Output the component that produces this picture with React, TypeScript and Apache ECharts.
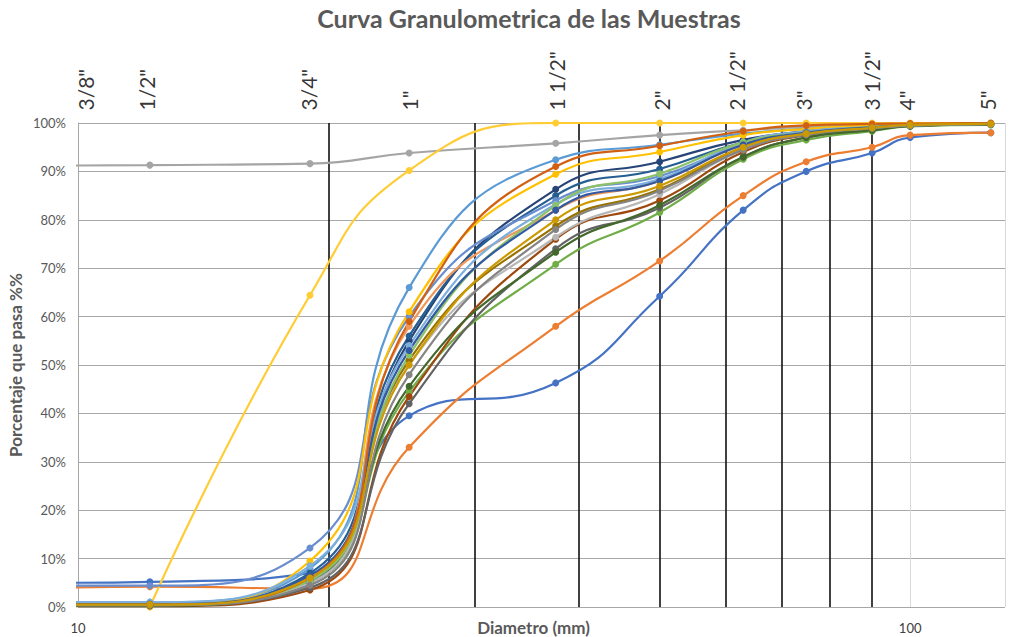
import React, { useEffect, useRef } from "react";
import * as echarts from "echarts";

// Sieve sizes (mm) used for every sample
const sizes = [9.5, 12.2, 19, 25, 37.5, 50, 63, 75, 90, 100, 125];

// Top sieve labels and their positions along the diameter axis (mm)
const sieveLabels = ['3/8"', '1/2"', '3/4"', '1"', '1 1/2"', '2"', '2 1/2"', '3"', '3 1/2"', '4"', '5"'];
const sieveLabelPos = [10.2, 12.1, 18.9, 25, 37.6, 50.2, 61.8, 74.4, 89.8, 99, 124];

// Minor vertical grid lines (mm)
const minorGrid = [20, 30, 40, 50, 60, 70, 80, 90];

// Percent passing for each sample (null = sieve not reported)
const m1 = [5, 5.2, 7, 39.5, 46.3, 64.2, 82, 90, 93.8, 97, 98];
const m2 = [4, 4.2, 3.8, 33, 58, 71.5, 85, 92, 95, 97.5, 98];
const m3 = [91.2, 91.3, 91.6, 93.8, 95.8, 97.5, 98.5, 99.2, 99.5, 99.8, 99.8];
const m4 = [null, 0, 64.4, 90.2, 100, 100, 100, 100, 100, 100, 100];
const m5 = [1, 1, 8, 66, 92.4, 95.5, 97.8, 98.8, 99.3, 99.7, 99.8];
const m6 = [0.3, 0.3, 5, 44.5, 70.8, 81.5, 92.5, 96.5, 98.3, 99.3, 99.6];
const m7 = [0.5, 0.5, 5, 55, 86.3, 92, 96.5, 98.3, 99.3, 99.7, 99.8];
const m8 = [0.2, 0.2, 3.5, 43.5, 76, 84, 94, 97.5, 98.8, 99.5, 99.7];
const m9 = [0.4, 0.4, 4, 42, 74, 82.5, 93, 97, 98.6, 99.4, 99.7];
const m10 = [0.5, 0.5, 6, 51, 78.7, 86.3, 95, 97.8, 99, 99.6, 99.8];
const m11 = [0.5, 0.5, 7, 56, 85, 90.5, 96, 98.2, 99.2, 99.6, 99.8];
const m12 = [0.3, 0.3, 5.5, 45.6, 73.3, 83, 93, 97, 98.5, 99.4, 99.7];
const m13 = [4.4, 4.4, 12.2, 60, 84, 89, 95.5, 98, 99, 99.5, 99.8];
const m14 = [0.8, 0.8, 6, 58, 82, 88, 95.5, 98.2, 99.2, 99.6, 99.8];
const m15 = [0.5, 0.5, 5, 50, 76.4, 85.3, 94.5, 97.7, 99, 99.5, 99.8];
const m16 = [0.6, 0.6, 9.5, 61, 89.4, 94, 97.5, 98.8, 99.5, 99.8, 99.9];
const m17 = [1, 1, 8.5, 54, 83.2, 88.4, 96, 98.3, 99.2, 99.6, 99.8];
const m18 = [0.4, 0.4, 5.5, 52, 83, 89.5, 96, 98, 99.2, 99.6, 99.8];
const m19 = [0.6, 0.6, 6.5, 53, 82, 88, 95.5, 98, 99.1, 99.6, 99.8];
const m20 = [0.5, 0.5, 6, 59, 91, 95.3, 98.3, 99.5, 99.8, 99.9, 100];
const m21 = [0.4, 0.4, 4.5, 48, 78, 86, 94.5, 97.6, 98.9, 99.5, 99.8];
const m22 = [0.5, 0.5, 6, 50, 80, 87, 95, 97.8, 99, 99.6, 99.8];

const samples = [m1, m2, m3, m4, m5, m6, m7, m8, m9, m10, m11, m12, m13, m14, m15, m16, m17, m18, m19, m20, m21, m22];
const sampleNames = samples.map((_, i) => "Muestra " + (i + 1));
const colors = [
  "#4472C4", "#ED7D31", "#A5A5A5", "#FFCC33", "#5B9BD5", "#70AD47",
  "#264478", "#9E480E", "#636363", "#997300", "#255E91", "#43682B",
  "#698ED0", "#F1975A", "#B7B7B7", "#FFC000", "#7CAFDD", "#8CC168",
  "#335AA1", "#D26012", "#848484", "#CC9A00",
];

const FONT = 'Lato, "Noto Sans", sans-serif';

export default function App() {
  const ref = useRef<HTMLDivElement>(null);
  useEffect(() => {
    if (!ref.current) return;
    const chart = echarts.init(ref.current, undefined, { renderer: "svg", width: 1009, height: 637 });
    const lineSeries = samples.map((vals, i) => ({
      name: sampleNames[i],
      type: "line",
      smooth: 0.5,
      symbol: "circle",
      symbolSize: 7,
      z: 3,
      color: colors[i],
      lineStyle: { width: 2.2, color: colors[i] },
      itemStyle: { color: colors[i] },
      emphasis: { disabled: true },
      data: vals.map((v, j) => (v === null ? [sizes[j], "-"] : [sizes[j], v])),
    }));
    chart.setOption({
      animation: false,
      textStyle: { fontFamily: FONT },
      title: {
        text: "Curva Granulometrica de las Muestras",
        left: 524,
        top: 0,
        textAlign: "center",
        textStyle: { fontFamily: FONT, fontSize: 25, fontWeight: "bold", color: "#595959" },
      },
      grid: { left: 78, right: 4, top: 123, bottom: 30, containLabel: false, outerBoundsMode: "none" },
      xAxis: {
        type: "log",
        logBase: 10,
        min: 10,
        max: 130,
        name: "Diametro (mm)",
        nameLocation: "middle",
        nameGap: 20,
        nameMoveOverlap: false,
        nameTextStyle: {
          fontFamily: FONT, fontSize: 17, fontWeight: "bold", color: "#595959",
          verticalAlign: "middle", padding: [0, 16, 0, 0],
        },
        axisLine: { show: false },
        axisTick: { show: false },
        axisLabel: { color: "#404040", fontSize: 13, margin: 14, showMaxLabel: false, fontFamily: FONT },
        splitLine: { show: true, lineStyle: { color: "#d9d9d9", width: 1 } },
        minorSplitLine: { show: false },
      },
      yAxis: {
        type: "value",
        min: 0,
        max: 100,
        interval: 10,
        name: "Porcentaje que pasa %%",
        nameLocation: "middle",
        nameGap: 54,
        nameMoveOverlap: false,
        nameTextStyle: { fontFamily: FONT, fontSize: 17, fontWeight: "bold", color: "#595959" },
        axisLine: { show: true, lineStyle: { color: "#a6a6a6", width: 1 } },
        axisTick: { show: false },
        axisLabel: { formatter: "{value}%", color: "#595959", fontSize: 13, margin: 12, fontFamily: FONT },
        splitLine: { show: true, lineStyle: { color: "#a8a8a8", width: 1 } },
      },
      series: [
        {
          name: "grid",
          type: "line",
          data: [],
          z: 1,
          silent: true,
          markLine: {
            z: 1,
            silent: true,
            symbol: ["none", "none"],
            label: { show: false },
            lineStyle: { color: "#111", width: 1.6, type: "solid" },
            emphasis: { disabled: true },
            data: minorGrid.map((v) => ({ xAxis: v })),
          },
        },
        ...lineSeries,
        {
          name: "tamices",
          type: "scatter",
          symbolSize: 1,
          itemStyle: { color: "rgba(0,0,0,0)" },
          silent: true,
          clip: false,
          z: 6,
          label: {
            show: true,
            position: "top",
            distance: 12,
            rotate: 90,
            align: "left",
            verticalAlign: "middle",
            fontFamily: FONT,
            fontSize: 21,
            color: "#000",
            formatter: (p: any) => p.name,
          },
          data: sieveLabelPos.map((x, i) => ({ name: sieveLabels[i], value: [x, 100] })),
        },
      ],
    });
    return () => chart.dispose();
  }, []);
  return <div ref={ref} style={{ position: "absolute", left: 0, top: 0, width: 1009, height: 637 }} />;
}
